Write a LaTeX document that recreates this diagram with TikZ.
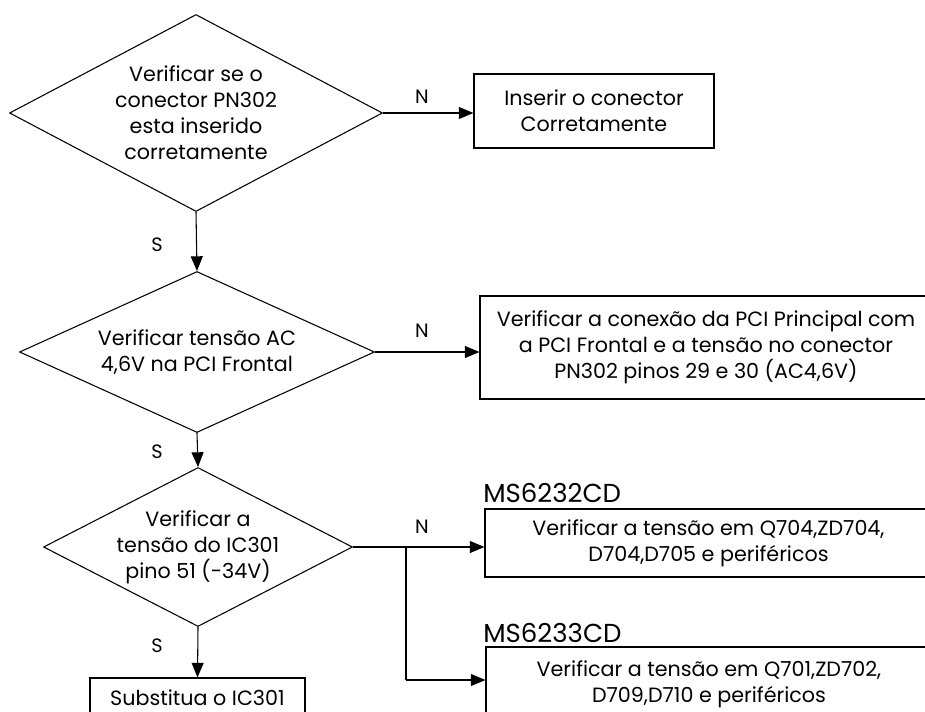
\documentclass[tikz,border=0pt]{standalone}
\usepackage{fontspec}
\setmainfont{Poppins}
\usetikzlibrary{shapes.geometric,arrows.meta}
\tikzset{
  pxsize/.style 2 args={minimum width=#1*0.75pt, minimum height=#2*0.75pt},
  dec/.style={shape=diamond, draw, inner sep=0pt, align=center, line width=0.8pt,
    font=\fontsize{15.5}{19.5}\selectfont},
  act/.style={shape=rectangle, draw, inner sep=0pt, align=center, line width=0.8pt,
    font=\fontsize{15.5}{19.5}\selectfont},
  lbl/.style={inner sep=0pt, font=\fontsize{14.5}{17}\selectfont},
  mlbl/.style={inner sep=0pt, anchor=west, font=\fontsize{19.5}{22}\selectfont},
  flow/.style={line width=0.8pt, -{Triangle[length=11pt, width=9pt]}},
  wire/.style={line width=0.8pt},
}
\begin{document}
\begin{tikzpicture}[x=0.75pt, y=-0.75pt]
\useasboundingbox (0,0) rectangle (925,711);
% decisions
\node[dec, pxsize={373}{197}, aspect=1.9] (D1) at (196,113)
  {Verificar se o\\conector PN302\\esta inserido\\corretamente};
\node[dec, pxsize={355}{161}, aspect=2.2] (D2) at (197,352)
  {Verificar tensão AC\\4,6V na PCI Frontal};
\node[dec, pxsize={309}{159}, aspect=1.95] (D3) at (198,547)
  {Verificar a\\tensão do IC301\\pino 51 (-34V)};
% actions
\node[act, pxsize={240}{74}] (B1) at (594,111)
  {Inserir o conector\\Corretamente};
\node[act, pxsize={452}{103}] (B2) at (706,347.5)
  {Verificar a conexão da PCI Principal com\\a PCI Frontal e a tensão no conector\\PN302 pinos 29 e 30 (AC4,6V)};
\node[act, pxsize={447}{68}] (B3) at (708.5,543)
  {Verificar a tensão em Q704,ZD704,\\D704,D705 e periféricos};
\node[act, pxsize={446}{74}] (B4) at (709,684)
  {Verificar a tensão em Q701,ZD702,\\D709,D710 e periféricos};
\node[act, pxsize={215}{40}] (B5) at (197.5,698)
  {Substitua o IC301};
% model labels
\node[mlbl] (M1) at (483,493) {MS6232CD};
\node[mlbl] (M2) at (483,633) {MS6233CD};
% connectors
\draw[flow] (D1.east) -- (D1.east -| B1.west);
\draw[flow] (D1.south) -- (D2.north);
\draw[flow] (D2.east) -- (D2.east -| B2.west);
\draw[flow] (D2.south) -- (D3.north);
\coordinate (BR) at (406,547);
\coordinate (BR2) at (406,680);
\draw[flow] (D3.east) -- (D3.east -| B3.west);
\draw[wire] (BR) -- (BR2);
\draw[flow] (BR2) -- (BR2 -| B4.west);
\draw[flow] (D3.south) -- (B5.north);
% branch labels
\node[lbl] (N1) at (422,97) {N};
\node[lbl] (S1) at (157,245) {S};
\node[lbl] (N2) at (422,331) {N};
\node[lbl] (S2) at (157,452) {S};
\node[lbl] (N3) at (422,527) {N};
\node[lbl] (S3) at (157,646) {S};
\end{tikzpicture}
\end{document}
